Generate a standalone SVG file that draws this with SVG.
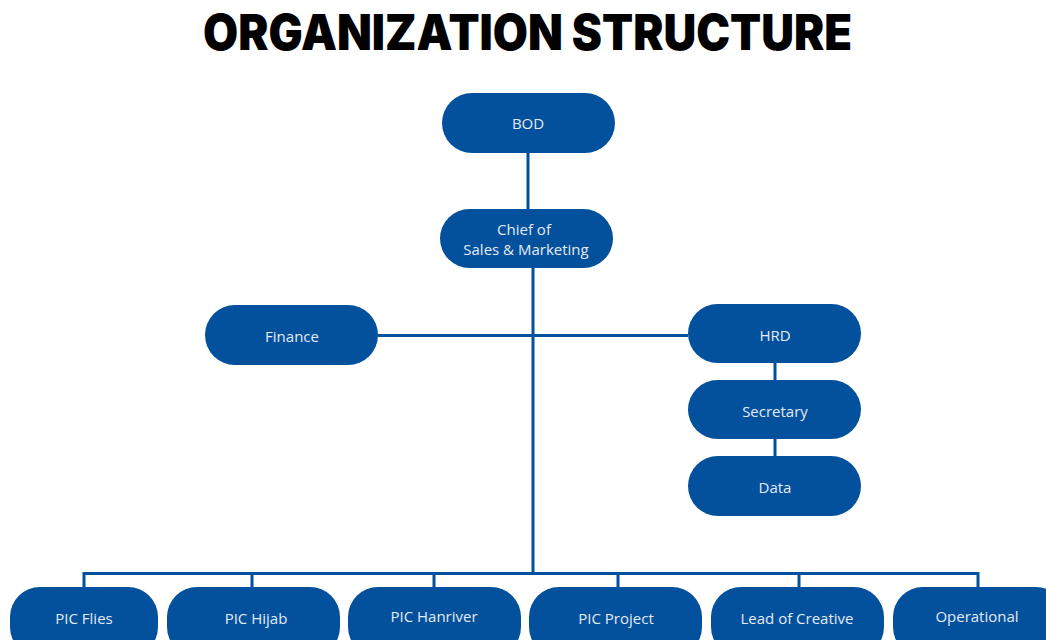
<svg xmlns="http://www.w3.org/2000/svg" width="1046" height="640" viewBox="0 0 1046 640">
<style>
.box{fill:#03509c}
.lbl{fill:#e4ebf4;font-family:"Open Sans","Liberation Sans",sans-serif;font-size:15px;text-anchor:middle;dominant-baseline:central}
.title{fill:#000;font-family:Inter,"Liberation Sans",sans-serif;font-weight:900;font-size:49px;text-anchor:middle}
.con{stroke:#03509c;stroke-width:3;fill:none}
</style>
<rect width="1046" height="640" fill="#fff"/>
<text class="title" x="527.5" y="50" textLength="649" lengthAdjust="spacingAndGlyphs">ORGANIZATION STRUCTURE</text>
<g id="connectors">
<path class="con" d="M528 153V209"/>
<path class="con" d="M533 268V574"/>
<path class="con" d="M378 335.5H688"/>
<path class="con" d="M775 363V380M775 439V456"/>
<path class="con" d="M84 587V573.5H978V587M252 573.5V587M434 573.5V587M618 573.5V587M799 573.5V587"/>
</g>
<g id="bod"><rect class="box" x="442" y="93" width="173" height="60" rx="30"/><text class="lbl" x="528" y="123">BOD</text></g>
<g id="chief"><rect class="box" x="440" y="209" width="173" height="59" rx="29.5"/><text class="lbl" x="524" y="229">Chief of</text><text class="lbl" x="526" y="249">Sales &amp; Marketing</text></g>
<g id="finance"><rect class="box" x="205" y="305" width="173" height="60" rx="30"/><text class="lbl" x="292" y="336">Finance</text></g>
<g id="hrd"><rect class="box" x="688" y="304" width="173" height="59" rx="29.5"/><text class="lbl" x="775" y="335">HRD</text></g>
<g id="secretary"><rect class="box" x="688" y="380" width="173" height="59" rx="29.5"/><text class="lbl" x="775" y="411">Secretary</text></g>
<g id="data"><rect class="box" x="688" y="456" width="173" height="60" rx="30"/><text class="lbl" x="775" y="487">Data</text></g>
<g id="pic-flies"><rect class="box" x="10" y="587" width="148" height="70" rx="30"/><text class="lbl" x="84" y="618">PIC Flies</text></g>
<g id="pic-hijab"><rect class="box" x="167" y="587" width="173" height="70" rx="30"/><text class="lbl" x="256" y="618">PIC Hijab</text></g>
<g id="pic-hanriver"><rect class="box" x="348" y="587" width="173" height="70" rx="30"/><text class="lbl" x="434" y="616">PIC Hanriver</text></g>
<g id="pic-project"><rect class="box" x="529" y="587" width="173" height="70" rx="30"/><text class="lbl" x="616" y="618">PIC Project</text></g>
<g id="lead-creative"><rect class="box" x="711" y="587" width="173" height="70" rx="30"/><text class="lbl" x="797" y="618">Lead of Creative</text></g>
<g id="operational"><rect class="box" x="893" y="587" width="173" height="70" rx="30"/><text class="lbl" x="977" y="616">Operational</text></g>
</svg>
